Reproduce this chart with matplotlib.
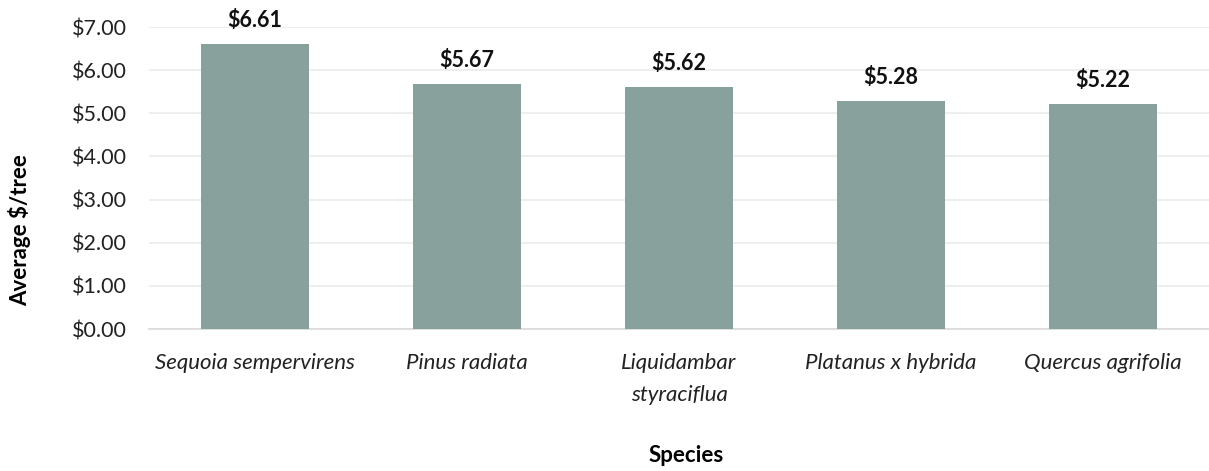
import matplotlib
matplotlib.use("Agg")
import matplotlib.pyplot as plt
from matplotlib.ticker import FuncFormatter

species = ["Sequoia sempervirens", "Pinus radiata", "Liquidambar\nstyraciflua",
           "Platanus x hybrida", "Quercus agrifolia"]
values = [6.61, 5.67, 5.62, 5.28, 5.22]
yticks = [0, 1, 2, 3, 4, 5, 6, 7]

plt.rcParams['font.family'] = ['Lato', 'DejaVu Sans']

fig = plt.figure(figsize=(12.09, 4.71), dpi=100)
ax = fig.add_axes([149/1209, 1-329/471, 1-149/1209, (329-27)/471])

x = list(range(len(species)))
ax.bar(x, values, width=0.505, color="#89A19C", zorder=3)
ax.set_xlim(-0.5, len(species)-0.5)
ax.set_ylim(0, 7)
ax.set_yticks(yticks)
ax.yaxis.set_major_formatter(FuncFormatter(lambda v, p: f"${v:.2f}"))
ax.grid(axis='y', color="#EBEBEB", linewidth=1.2, zorder=0)
for s in ["top", "right", "left"]:
    ax.spines[s].set_visible(False)
ax.spines["bottom"].set_color("#D9D9D9")
ax.spines["bottom"].set_linewidth(1.2)
ax.tick_params(axis='both', length=0, labelsize=15.5, colors="#222222")
ax.tick_params(axis='y', pad=16)
ax.tick_params(axis='x', pad=17)
ax.set_xticks(x)
ax.set_xticklabels(species, style='italic', va='top', linespacing=1.75, fontsize=16)

for xi, v in zip(x, values):
    ax.text(xi, v + 0.3, f"${v:.2f}", ha='center', va='bottom',
            fontsize=15.5, fontweight='bold', color="#111111")

fig.text(686/1209, 1-456/471, "Species", ha='center', va='center',
         fontsize=16, fontweight='bold')
fig.text(20/1209, 1-230/471, "Average $/tree", ha='center', va='center',
         rotation=90, fontsize=16, fontweight='bold')

fig.savefig("out.png", dpi=100)
